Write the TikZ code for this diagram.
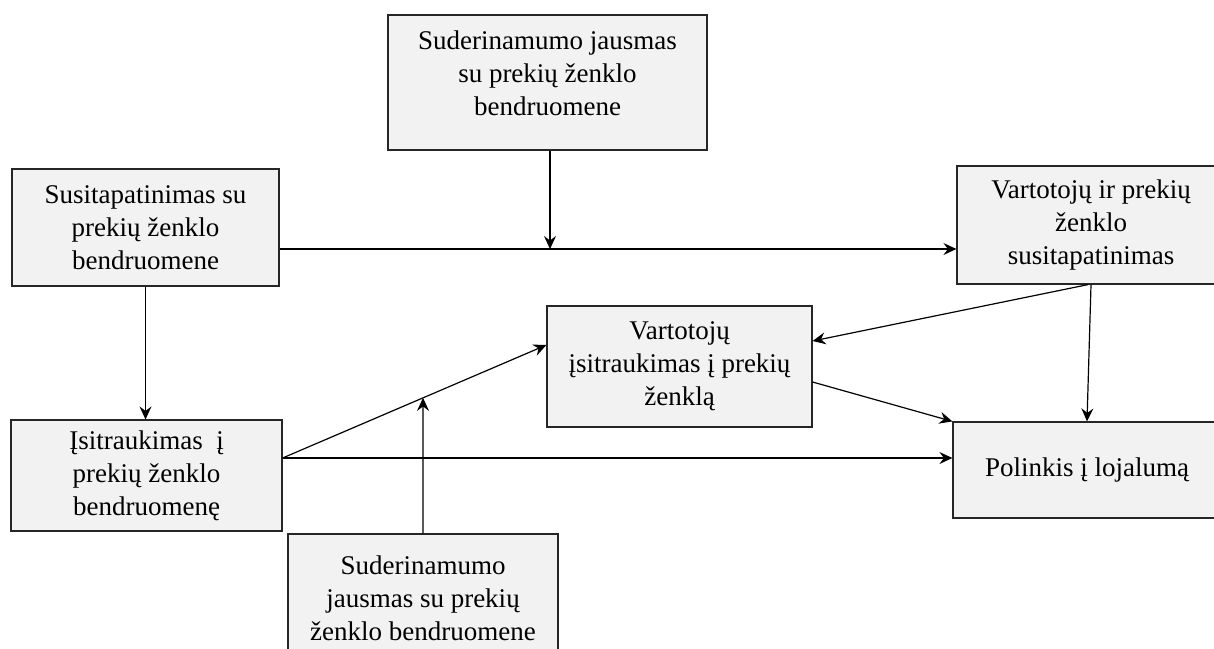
\documentclass[tikz,border=0pt]{standalone}
\usepackage{fontspec}
\setmainfont{Liberation Serif}
\usepackage{tikz}
\usetikzlibrary{arrows.meta,calc,positioning}
\definecolor{boxfill}{HTML}{F2F2F2}
\definecolor{boxline}{HTML}{262626}

\begin{document}
\begin{tikzpicture}[x=1pt,y=-1pt,
  box/.style={draw=boxline,line width=1.2pt,fill=boxfill,align=center,inner sep=0pt,
    font=\fontsize{27}{33}\selectfont},
  conn/.style={line width=1.2pt,-{Stealth[length=13pt,width=12pt,inset=4.5pt]}}]
\useasboundingbox (0,0) rectangle (1214,648);
\clip (0,0) rectangle (1214,648);
\node[box,minimum width=319pt,minimum height=135pt,text depth=19pt] (sudtop) at (547.5,82.5) {Suderinamumo jausmas\\su prekių ženklo\\bendruomene};
\node[box,minimum width=267pt,minimum height=117pt] (susitap) at (145.5,227.5) {Susitapatinimas su\\prekių ženklo\\bendruomene};
\node[box,minimum width=268pt,minimum height=118pt] (vartid) at (1091,225) {Vartotojų ir prekių\\ženklo\\susitapatinimas};
\node[box,minimum width=265pt,minimum height=121pt] (vartisi) at (679.5,366.5) {Vartotojų\\įsitraukimas į prekių\\ženklą};
\node[box,minimum width=268pt,minimum height=96pt] (polink) at (1087,470) {Polinkis į lojalumą};
\node[box,minimum width=271pt,minimum height=111pt] (isitr) at (146.5,475.5) {Įsitraukimas\ \ į\\prekių ženklo\\bendruomenę};
\node[box,minimum width=270pt,minimum height=128pt] (sudbot) at (423,598) {Suderinamumo\\jausmas su prekių\\ženklo bendruomene};
\coordinate (mod1) at (550,249);
\coordinate (isout) at ([yshift=17.5pt]isitr.east);
\coordinate (inw) at ([yshift=21.5pt]vartisi.west);
\draw[conn] (susitap.east |- mod1) -- (vartid.west |- mod1);
\draw[conn] (sudtop.south -| mod1) -- (mod1);
\draw[conn] (susitap.south) -- (susitap.south |- isitr.north);
\draw[conn] (isout) -- (inw);
\draw[conn] (isout) -- (polink.west |- isout);
\draw[conn] (sudbot.north) -- (intersection of isout--inw and sudbot.north--sudbot.center);
\draw[conn] ([xshift=-3pt]vartid.south) -- ([yshift=25.5pt]vartisi.east);
\draw[conn] (vartid.south) -- (polink.north);
\draw[conn] ([yshift=-15.5pt]vartisi.east) -- (polink.north west);
\end{tikzpicture}
\end{document}
